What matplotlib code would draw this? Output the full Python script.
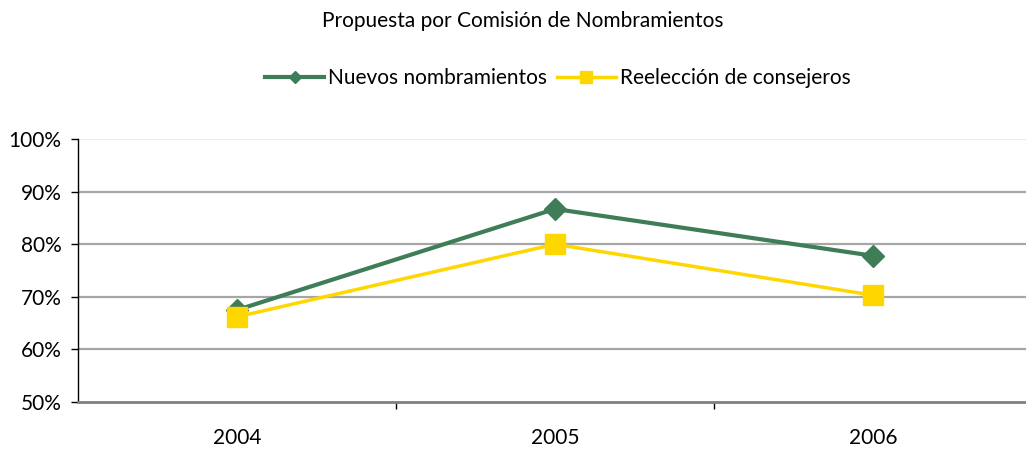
import matplotlib
matplotlib.use("Agg")
import matplotlib.pyplot as plt
from matplotlib.ticker import FuncFormatter, FixedLocator

plt.rcParams['font.family'] = ['Lato', 'DejaVu Sans']

years = ["2004", "2005", "2006"]
nuevos = [67.5, 86.7, 77.8]
reeleccion = [66.2, 80.0, 70.3]
title = "Propuesta por Comisión de Nombramientos"
series_names = ["Nuevos nombramientos", "Reelección de consejeros"]

green = "#3F7D58"
yellow = "#FFD700"

fig = plt.figure(figsize=(10.26, 4.51), dpi=100)
ax = fig.add_axes([78/1026, 49/451, (1032-78)/1026, 263/451])

x = list(range(len(years)))
l1, = ax.plot(x, nuevos, color=green, lw=3, marker='D', ms=11, zorder=3)
l2, = ax.plot(x, reeleccion, color=yellow, lw=2.5, marker='s', ms=14, zorder=4)

ax.set_xlim(-0.5, 2.5)
ax.set_ylim(50, 100)
ax.set_yticks([50, 60, 70, 80, 90, 100])
ax.yaxis.set_major_formatter(FuncFormatter(lambda v, p: f"{v:.0f}%"))
for v in [60, 70, 80, 90]:
    ax.axhline(v, color="#A6A6A6", lw=1.6, zorder=1)
ax.axhline(100, color="#E6E6E6", lw=1.2, zorder=1)

ax.set_xticks(x)
ax.set_xticklabels(years)
ax.xaxis.set_minor_locator(FixedLocator([0.5, 1.5, 2.5]))
ax.tick_params(axis='x', which='major', length=0, pad=19, labelsize=15)
ax.tick_params(axis='x', which='minor', length=5, width=1, color='black', direction='out')
ax.tick_params(axis='y', length=5, width=1, color='black', pad=7, labelsize=15)

for s in ['top', 'right']:
    ax.spines[s].set_visible(False)
ax.spines['left'].set_color('black')
ax.spines['left'].set_linewidth(1)
ax.spines['bottom'].set_color('#808080')
ax.spines['bottom'].set_linewidth(2)
ax.spines['bottom'].set_zorder(5)

fig.text(523/1026, 1-21/451, title, ha='center', va='center', fontsize=15)
fig.legend([l1, l2], series_names, loc='center', bbox_to_anchor=(558/1026, 1-78/451),
           ncol=2, frameon=False, fontsize=15, handlelength=2.8, columnspacing=0.5,
           handletextpad=0.2, markerscale=0.6)

fig.savefig("out.png", dpi=100)
